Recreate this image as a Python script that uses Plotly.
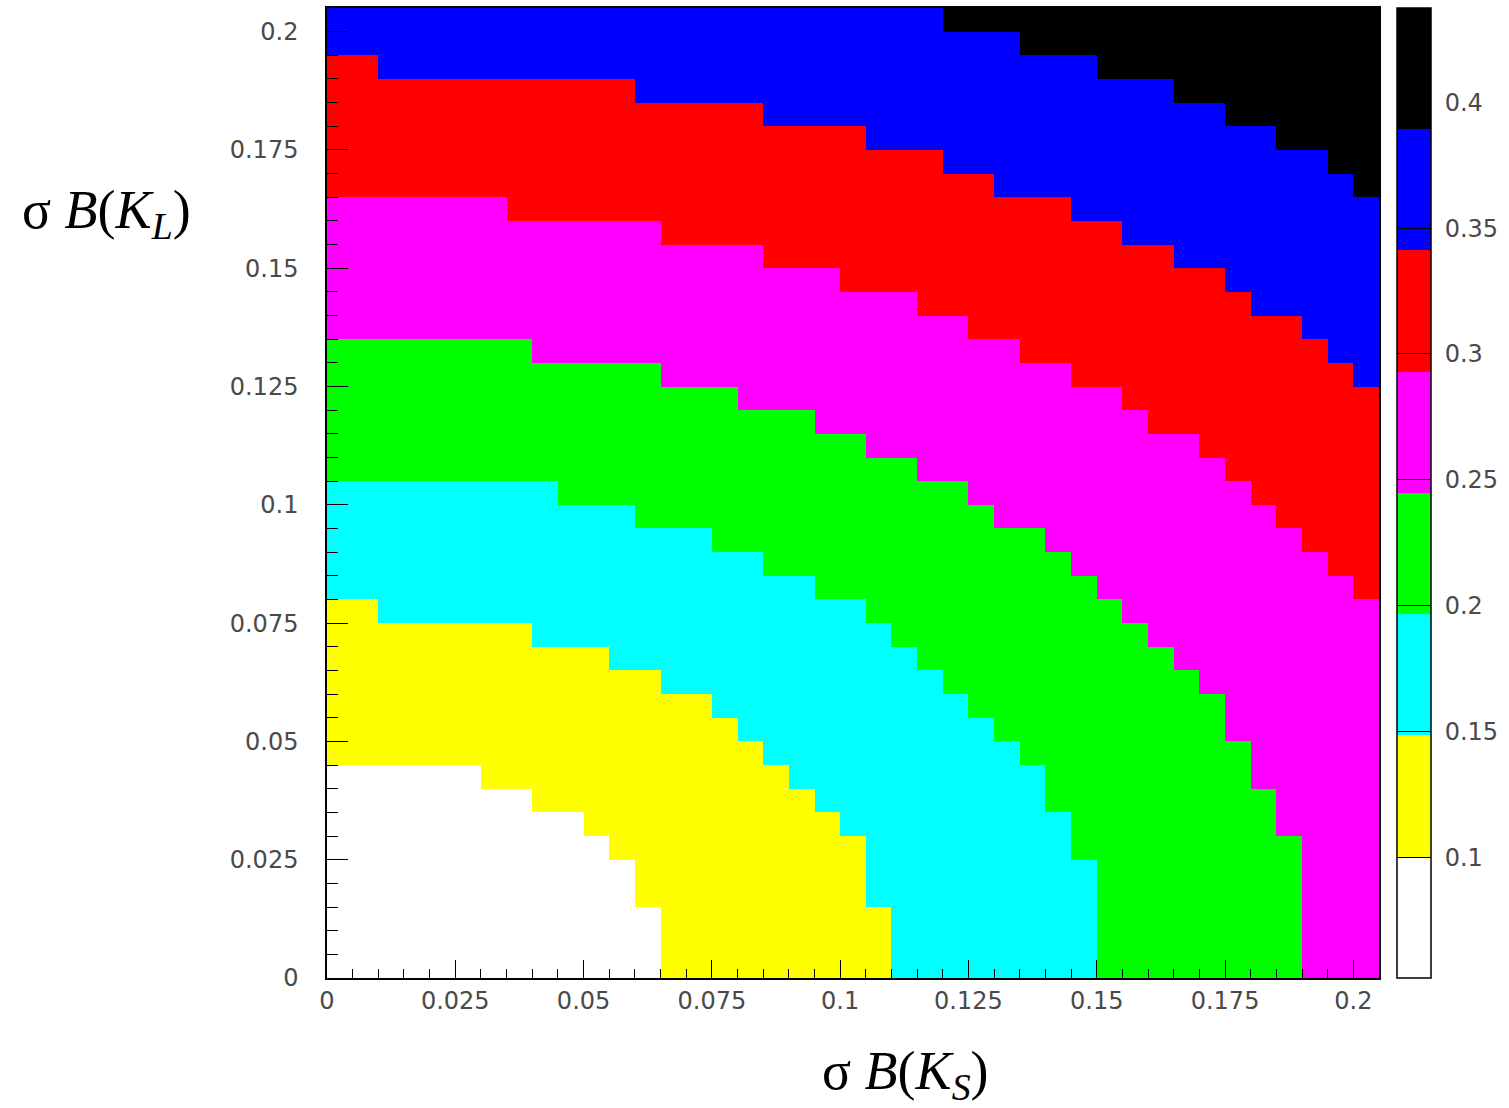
import plotly.graph_objects as go

# Binning of the 2D histogram (41 x 41 bins of width 0.005 on both axes)
n_bins = 41
bin_width = 0.005

# Contour bands: value range and the colour of each band (low -> high)
z_min = 0.052
z_max = 0.4375
band_colors = ["#ffffff", "#ffff00", "#00ffff", "#00ff00",
               "#ff00ff", "#ff0000", "#0000ff", "#000000"]

# For each sigma B(K_S) column, the first sigma B(K_L) bin that lies
# above each contour level (41 = level not reached in that column).
edge_white_yellow = [9, 9, 9, 9, 9, 9, 8, 8, 7, 7, 6, 5, 3, 0, 0, 0, 0, 0, 0, 0, 0,
                     0, 0, 0, 0, 0, 0, 0, 0, 0, 0, 0, 0, 0, 0, 0, 0, 0, 0, 0, 0]
edge_yellow_cyan = [16, 16, 15, 15, 15, 15, 15, 15, 14, 14, 14, 13, 13, 12, 12, 11, 10, 9, 8, 7, 6,
                    3, 0, 0, 0, 0, 0, 0, 0, 0, 0, 0, 0, 0, 0, 0, 0, 0, 0, 0, 0]
edge_cyan_green = [21, 21, 21, 21, 21, 21, 21, 21, 21, 20, 20, 20, 19, 19, 19, 18, 18, 17, 17, 16, 16,
                   15, 14, 13, 12, 11, 10, 9, 7, 5, 0, 0, 0, 0, 0, 0, 0, 0, 0, 0, 0]
edge_green_magenta = [27, 27, 27, 27, 27, 27, 27, 27, 26, 26, 26, 26, 26, 25, 25, 25, 24, 24, 24, 23, 23,
                      22, 22, 21, 21, 20, 19, 19, 18, 17, 16, 15, 14, 13, 12, 10, 8, 6, 0, 0, 0]
edge_magenta_red = [33, 33, 33, 33, 33, 33, 33, 32, 32, 32, 32, 32, 32, 31, 31, 31, 31, 30, 30, 30, 29,
                    29, 29, 28, 28, 27, 27, 26, 26, 25, 25, 24, 23, 23, 22, 21, 20, 19, 18, 17, 16]
edge_red_blue = [39, 39, 38, 38, 38, 38, 38, 38, 38, 38, 38, 38, 37, 37, 37, 37, 37, 36, 36, 36, 36,
                 35, 35, 35, 34, 34, 33, 33, 33, 32, 32, 31, 31, 30, 30, 29, 28, 28, 27, 26, 25]
edge_blue_black = [41, 41, 41, 41, 41, 41, 41, 41, 41, 41, 41, 41, 41, 41, 41, 41, 41, 41, 41, 41, 41,
                   41, 41, 41, 40, 40, 40, 39, 39, 39, 38, 38, 38, 37, 37, 36, 36, 35, 35, 34, 33]

# Axis ticks
axis_tickvals = [0, 0.025, 0.05, 0.075, 0.1, 0.125, 0.15, 0.175, 0.2]
axis_ticktext = ["0", "0.025", "0.05", "0.075", "0.1", "0.125", "0.15", "0.175", "0.2"]
cbar_tickvals = [0.1, 0.15, 0.2, 0.25, 0.3, 0.35, 0.4]
cbar_ticktext = ["0.1", "0.15", "0.2", "0.25", "0.3", "0.35", "0.4"]

level_edges = [edge_white_yellow, edge_yellow_cyan, edge_cyan_green, edge_green_magenta,
               edge_magenta_red, edge_red_blue, edge_blue_black]
n_bands = len(band_colors)
band_step = (z_max - z_min) / n_bands

# Cell value = centre of the contour band the cell falls in
z = []
for j in range(n_bins):
    row = []
    for i in range(n_bins):
        band = sum(1 for edge in level_edges if j >= edge[i])
        row.append(z_min + (band + 0.5) * band_step)
    z.append(row)

bin_edges = [k * bin_width for k in range(n_bins + 1)]

# Stepped (discrete) colour scale
colorscale = []
for k, c in enumerate(band_colors):
    colorscale.append([k / n_bands, c])
    colorscale.append([(k + 1) / n_bands, c])

tick_font = dict(family="DejaVu Sans", size=24, color="#4a4a4a")

fig = go.Figure(go.Heatmap(
    x=bin_edges,
    y=bin_edges,
    z=z,
    zmin=z_min,
    zmax=z_max,
    colorscale=colorscale,
    zsmooth=False,
    hoverinfo="skip",
    colorbar=dict(
        x=1.0171, xanchor="left", xpad=0,
        y=0.5, yanchor="middle", ypad=0,
        len=1.0, lenmode="fraction",
        thickness=34, thicknessmode="pixels",
        outlinecolor="black", outlinewidth=1.5,
        tickmode="array", tickvals=cbar_tickvals,
        # non-breaking space widens the gap between the bar and its labels
        ticktext=["\u00a0" + t for t in cbar_ticktext],
        ticks="inside", ticklen=34, tickcolor="black", tickwidth=1,
        tickfont=tick_font,
    ),
))

axis_common = dict(
    range=[0, n_bins * bin_width],
    showgrid=False, zeroline=False,
    showline=True, linecolor="black", linewidth=1.5, mirror=True,
    ticks="inside", tickcolor="black", tickwidth=1,
    tickmode="array", tickvals=axis_tickvals, ticktext=axis_ticktext,
    tickfont=tick_font,
)

fig.update_xaxes(**axis_common, ticklen=18, ticklabelstandoff=0,
                 minor=dict(dtick=bin_width, ticks="inside", ticklen=9,
                            tickcolor="black", tickwidth=1, showgrid=False))
fig.update_yaxes(**axis_common, ticklen=21, ticklabelstandoff=22,
                 minor=dict(dtick=bin_width, ticks="inside", ticklen=11,
                            tickcolor="black", tickwidth=1, showgrid=False))

title_font = dict(family="Liberation Serif", size=54, color="black")
fig.add_annotation(text="\u03c3 <i>B</i>(<i>K<sub>L</sub></i>)",
                   xref="paper", yref="paper", x=-0.21, y=0.788,
                   xanchor="center", yanchor="middle", showarrow=False,
                   font=title_font)
fig.add_annotation(text="\u03c3 <i>B</i>(<i>K<sub>S</sub></i>)",
                   xref="paper", yref="paper", x=0.5496, y=-0.099,
                   xanchor="center", yanchor="middle", showarrow=False,
                   font=title_font)

fig.update_layout(
    width=1509, height=1108,
    margin=dict(l=327, r=130, t=8, b=130, autoexpand=False),
    paper_bgcolor="white", plot_bgcolor="white",
    showlegend=False,
)

fig.write_html("out.html")
